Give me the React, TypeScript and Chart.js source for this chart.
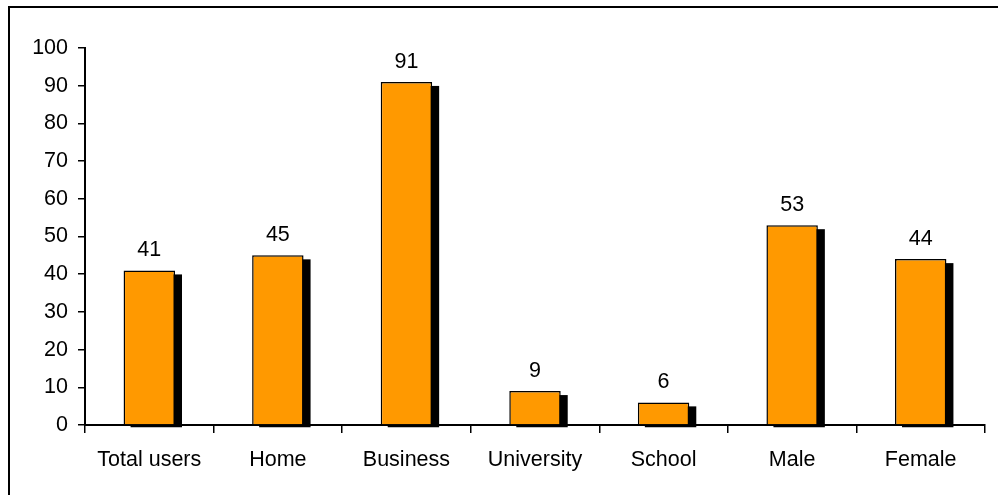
import React, { useEffect, useRef } from "react";
import { Chart, registerables } from "chart.js";

Chart.register(...registerables);

const categories = ["Total users", "Home", "Business", "University", "School", "Male", "Female"];
const values = [41, 45, 91, 9, 6, 53, 44];
const yTicks = [0, 10, 20, 30, 40, 50, 60, 70, 80, 90, 100];

const FONT = "'Liberation Sans', Arial, sans-serif";
const FS = 21.5;

const shadowPlugin = {
  id: "shadowPlugin",
  beforeDatasetsDraw(chart: any) {
    const ctx = chart.ctx;
    const meta = chart.getDatasetMeta(0);
    ctx.save();
    ctx.fillStyle = "#000";
    meta.data.forEach((bar: any) => {
      const w = bar.width;
      const left = bar.x - w / 2 + 7;
      const top = bar.y + 4;
      const bottom = bar.base + 3;
      ctx.fillRect(left, top, w, bottom - top);
    });
    ctx.restore();
  },
  afterDatasetsDraw(chart: any) {
    const ctx = chart.ctx;
    const meta = chart.getDatasetMeta(0);
    ctx.save();
    ctx.fillStyle = "#000";
    ctx.font = `${FS}px ${FONT}`;
    ctx.textAlign = "center";
    ctx.textBaseline = "alphabetic";
    meta.data.forEach((bar: any, i: number) => {
      ctx.fillText(String(values[i]), bar.x, bar.y - 14);
    });
    ctx.restore();
  },
  afterDraw(chart: any) {
    const ctx = chart.ctx;
    ctx.save();
    ctx.strokeStyle = "#000";
    ctx.lineWidth = 2;
    ctx.beginPath();
    ctx.moveTo(9, 500);
    ctx.lineTo(9, 7);
    ctx.lineTo(1000, 7);
    ctx.stroke();
    ctx.restore();
  },
};

export default function App() {
  const ref = useRef<HTMLCanvasElement>(null);
  useEffect(() => {
    if (!ref.current) return;
    const chart = new Chart(ref.current, {
      type: "bar",
      data: {
        labels: categories,
        datasets: [
          {
            data: values,
            backgroundColor: "#FF9900",
            borderColor: "#000",
            borderWidth: 1.5,
            barPercentage: 0.8,
            categoryPercentage: 0.5,
          },
        ],
      },
      options: {
        animation: false,
        responsive: false,
        devicePixelRatio: 1,
        layout: { padding: { top: 48, right: 13, left: 0, bottom: 0 } },
        plugins: { legend: { display: false }, tooltip: { enabled: false } },
        scales: {
          x: {
            afterFit: (s: any) => {
              s.height = 70;
            },
            grid: {
              display: true,
              drawOnChartArea: false,
              drawTicks: true,
              tickLength: 8,
              color: "#000",
              lineWidth: 1.5,
              offset: true,
            },
            border: { display: true, color: "#000", width: 2 },
            ticks: {
              color: "#000",
              font: { family: FONT, size: FS },
              padding: 14,
              maxRotation: 0,
              autoSkip: false,
            },
          },
          y: {
            min: 0,
            max: 100,
            afterFit: (s: any) => {
              s.width = 85;
            },
            afterBuildTicks: (s: any) => {
              s.ticks = yTicks.map((v) => ({ value: v }));
            },
            grid: {
              display: true,
              drawOnChartArea: false,
              drawTicks: true,
              tickLength: 7,
              color: "#000",
              lineWidth: 1.5,
            },
            border: { display: true, color: "#000", width: 2 },
            ticks: {
              color: "#000",
              font: { family: FONT, size: FS },
              padding: 10,
              stepSize: 10,
            },
          },
        },
      },
      plugins: [shadowPlugin],
    });
    return () => chart.destroy();
  }, []);
  return (
    <div style={{ position: "fixed", left: 0, top: 0, width: 998, height: 495, background: "#fff" }}>
      <canvas ref={ref} width={998} height={495} style={{ display: "block" }} />
    </div>
  );
}
